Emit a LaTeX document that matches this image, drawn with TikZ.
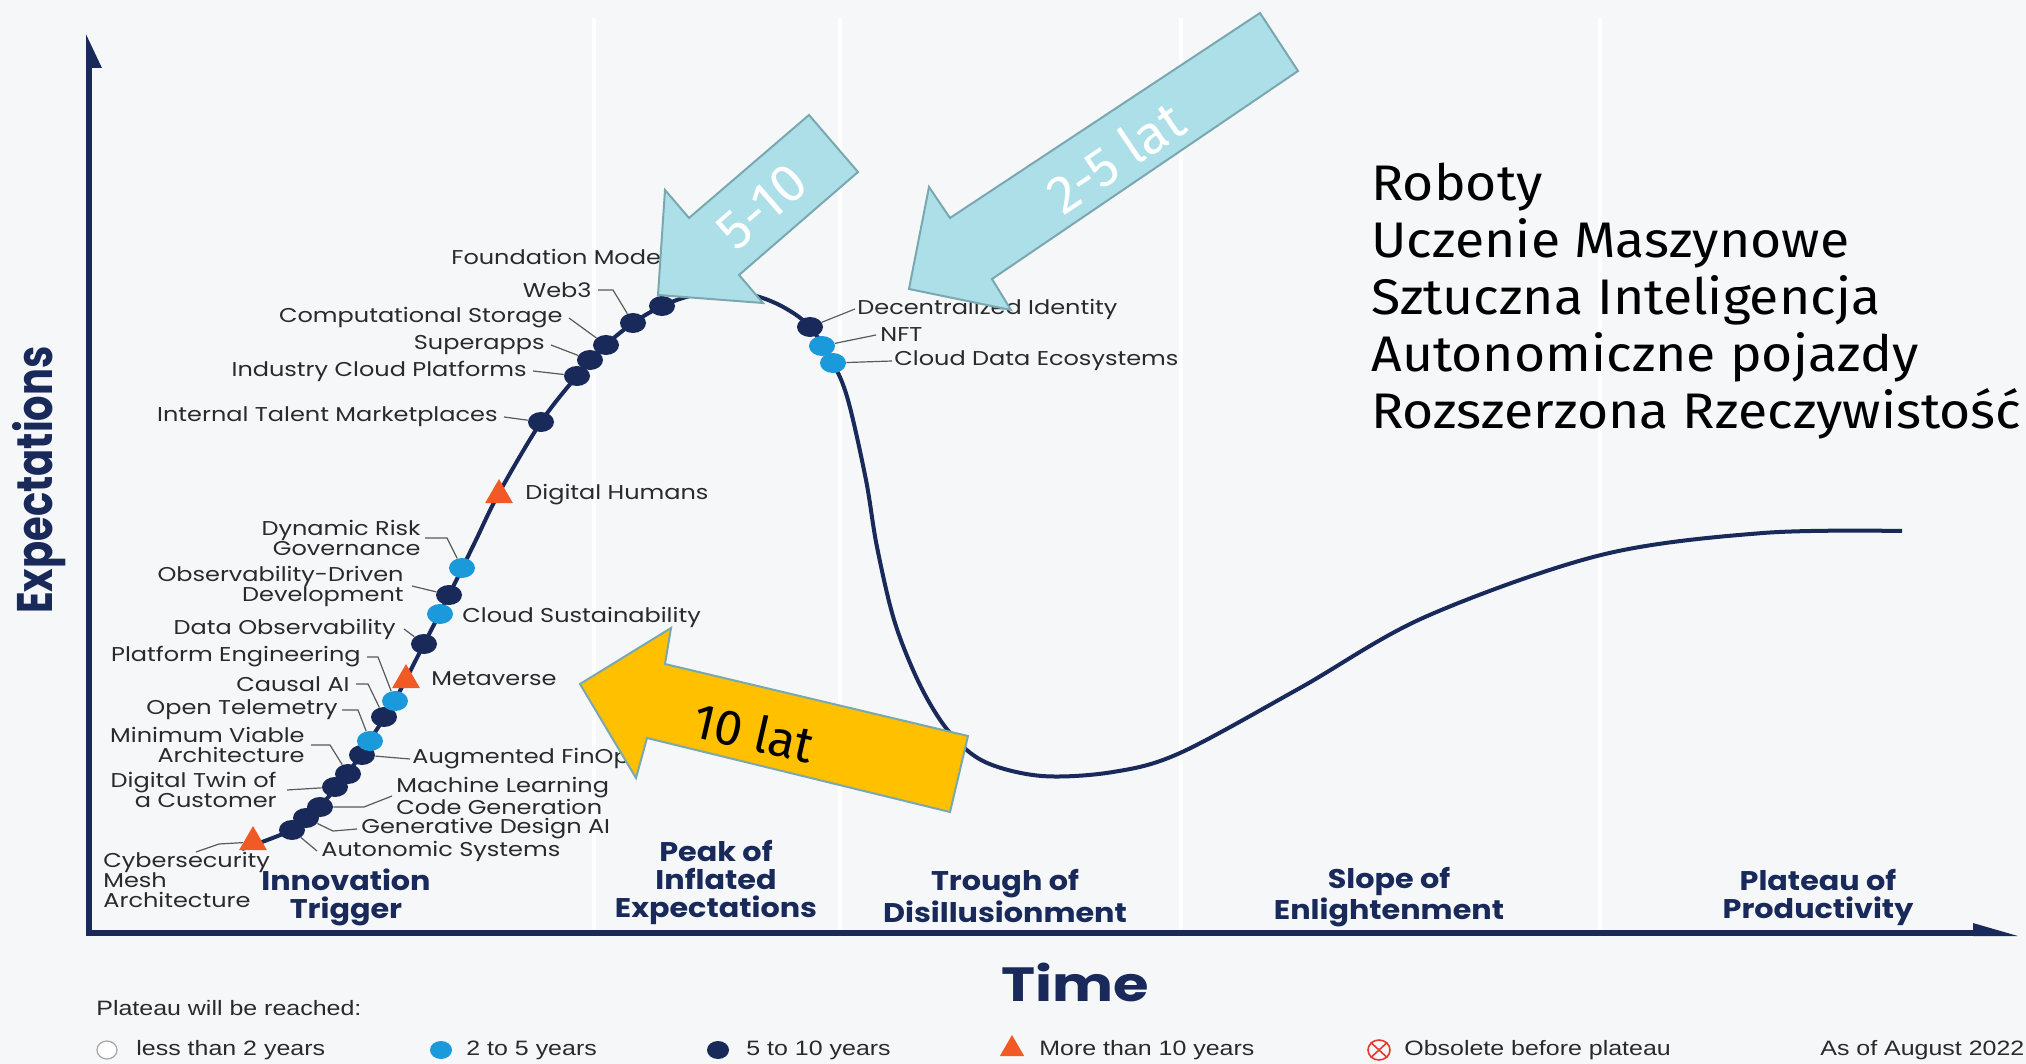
\documentclass[tikz,border=0pt]{standalone}
\usepackage{fontspec}
\setmainfont{Poppins}[FakeStretch=1.2]
\newfontfamily\phasefont{Poppins}[FakeStretch=1.12]
\newfontfamily\axisfont{Poppins}[FakeStretch=0.8]
\newfontfamily\legendfont{Liberation Sans}[FakeStretch=1.2]
\newfontfamily\slidefont{Fira Sans}
\newfontfamily\topicfont{Fira Sans}[FakeStretch=1.07]
\usetikzlibrary{arrows.meta,shapes.geometric}
\definecolor{hcnavy}{HTML}{18295A}
\definecolor{hcblue}{HTML}{1A9ADB}
\definecolor{hcorange}{HTML}{F15A24}
\definecolor{hcback}{HTML}{F5F7F9}
\definecolor{hcaqua}{HTML}{ADDFE9}
\definecolor{hcrim}{HTML}{7AA8B0}
\definecolor{hcyellow}{HTML}{FFC000}
\definecolor{hcgray}{HTML}{5A5A5A}
\definecolor{hcdark}{HTML}{2A2A2A}
\definecolor{hcred}{HTML}{E8382D}

\begin{document}
\begin{tikzpicture}[x=0.5pt,y=-0.5pt,
    navydot/.style={ellipse,fill=hcnavy,inner sep=0pt,minimum width=13pt,minimum height=10pt},
    bluedot/.style={navydot,fill=hcblue},
    tri/.style={regular polygon,regular polygon sides=3,fill=hcorange,inner sep=0pt,minimum size=16pt},
    tag/.style={inner sep=0pt,text=hcdark,font=\fontsize{10}{10}\selectfont},
    tagl/.style={tag,anchor=west,align=left},
    tagr/.style={tag,anchor=east,align=right},
    lead/.style={draw=hcgray,line width=0.6pt},
    phase/.style={inner sep=0pt,text=hcnavy,align=center,font=\phasefont\bfseries\fontsize{13.5}{14}\selectfont},
    axis/.style={draw=hcnavy,line width=3pt},
    sep/.style={draw=white,line width=2pt},
    block/.style={draw=hcrim,line width=1pt,line join=miter},
    legend/.style={inner sep=0pt,anchor=west,text=hcdark,font=\legendfont\fontsize{10.4}{12}\selectfont}]
  \useasboundingbox (0,0) rectangle (2026,1064);
  \fill[hcback] (0,0) rectangle (2026,1064);

  \foreach \x in {594,840,1181,1600}
    \draw[sep] (\x,18) -- (\x,930);

  \coordinate (origin) at (89,933);
  \coordinate (ytop) at (89,33);
  \coordinate (xend) at (2021,933);
  \draw[axis,-{Triangle[harpoon,swap,length=14pt,width=12pt]}] (origin) -- (ytop);
  \draw[axis,-{Triangle[harpoon,length=18pt,width=9pt]}] ([xshift=-1.5pt]origin) -- (xend);

  \draw[hcnavy,line width=2pt] plot[smooth,tension=0.55] coordinates {
    (242,849) (270,839) (292,829) (320,806) (348,773) (370,740) (395,700)
    (424,644) (449,595) (475,542) (499,493) (541,422) (577,376) (606,345)
    (633,323) (662,306) (690,296) (720,291) (756,296) (785,308) (810,327)
    (833,363) (848,400) (866,480) (877,547) (895,623) (921,687) (950,733)
    (985,762) (1042,776) (1113,772) (1180,753) (1300,688) (1425,617)
    (1601,555) (1763,533) (1902,531)};

  \node[tri]      (tCyber)  at (253,842) {};
  \node[navydot]  (dAuto)   at (292,830) {};
  \node[navydot]  (dGen)    at (306,818) {};
  \node[navydot]  (dML)     at (320,807) {};
  \node[navydot]  (dTwin)   at (335,787) {};
  \node[navydot]  (dMin)    at (348,774) {};
  \node[navydot]  (dAug)    at (362,755) {};
  \node[bluedot]  (dOpen)   at (370,741) {};
  \node[navydot]  (dCausal) at (384,717) {};
  \node[bluedot]  (dPlat)   at (395,701) {};
  \node[tri]      (tMeta)   at (406,680) {};
  \node[navydot]  (dData)   at (424,644) {};
  \node[bluedot]  (dSust)   at (440,614) {};
  \node[navydot]  (dObs)    at (449,595) {};
  \node[bluedot]  (dRisk)   at (462,568) {};
  \node[tri]      (tHum)    at (499,495) {};
  \node[navydot]  (dTal)    at (541,422) {};
  \node[navydot]  (dInd)    at (577,376) {};
  \node[navydot]  (dSuper)  at (590,360) {};
  \node[navydot]  (dComp)   at (606,345) {};
  \node[navydot]  (dWeb)    at (633,323) {};
  \node[navydot]  (dFound)  at (662,306) {};
  \node[navydot]  (dDec)    at (810,327) {};
  \node[bluedot]  (dNft)    at (822,346) {};
  \node[bluedot]  (dCde)    at (833,363) {};

  \node[tagl] (lFound)  at (451,257) {Foundation Models};
  \node[tagr] (lWeb)    at (592,290) {Web3};
  \node[tagr] (lComp)   at (563,318) {Computational Storage};
  \node[tagr] (lSuper)  at (545,345) {Superapps};
  \node[tagr] (lInd)    at (527,371) {Industry Cloud Platforms};
  \node[tagr] (lTal)    at (498,417) {Internal Talent Marketplaces};
  \node[tagl] (lHum)    at (525,495) {Digital Humans};
  \node[tagr] (lRisk)   at (421,538) {Dynamic Risk\\Governance};
  \node[tagr] (lObs)    at (404,586) {Observability-Driven\\Development};
  \node[tagl] (lSust)   at (462,617) {Cloud Sustainability};
  \node[tagr] (lData)   at (396,629) {Data Observability};
  \node[tagr] (lPlat)   at (361,657) {Platform Engineering};
  \node[tagl] (lMeta)   at (431,679) {Metaverse};
  \node[tagr] (lCausal) at (350,684) {Causal AI};
  \node[tagr] (lOpen)   at (338,710) {Open Telemetry};
  \node[tagr] (lMin)    at (305,745) {Minimum Viable\\Architecture};
  \node[tagl] (lAug)    at (412,759) {Augmented FinOps};
  \node[tagr] (lTwin)   at (277,790) {Digital Twin of\\a Customer};
  \node[tagl] (lML)     at (396,796) {Machine Learning\\Code Generation};
  \node[tagl] (lGen)    at (361,829) {Generative Design AI};
  \node[tagl] (lAuto)   at (321,851) {Autonomic Systems};
  \node[tagl] (lCyber)  at (103,880) {Cybersecurity\\Mesh\\Architecture};
  \node[tagl] (lDec)    at (857,309) {Decentralized Identity};
  \node[tagl] (lNft)    at (880,335) {NFT};
  \node[tagl] (lCde)    at (894,361) {Cloud Data Ecosystems};

  \draw[lead] ([xshift=3pt]lWeb.east) -- ++(15,0) -- (dWeb);
  \draw[lead] ([xshift=3pt]lComp.east) -- (dComp);
  \draw[lead] ([xshift=3pt]lSuper.east) -- (dSuper);
  \draw[lead] ([xshift=3pt]lInd.east) -- (dInd);
  \draw[lead] ([xshift=3pt]lTal.east) -- (dTal);
  \draw[lead] ([xshift=2pt]lRisk.east) -- ++(22,0) -- (dRisk);
  \draw[lead] ([xshift=4pt]lObs.east) -- (dObs);
  \draw[lead] ([xshift=4pt]lData.east) -- (dData);
  \draw[lead] ([xshift=3pt]lPlat.east) -- ++(11,0) -- (dPlat);
  \draw[lead] ([xshift=3pt]lCausal.east) -- ++(12,0) -- (dCausal);
  \draw[lead] ([xshift=2pt]lOpen.east) -- ++(16,0) -- (dOpen);
  \draw[lead] ([xshift=3pt]lMin.east) -- ++(19,0) -- (dMin);
  \draw[lead] (dAug) -- ([xshift=-1pt]lAug.west);
  \draw[lead] ([xshift=5pt]lTwin.east) -- (dTwin);
  \draw[lead] (dML) -- ++(44,0) -- ([xshift=-2pt]lML.west);
  \draw[lead] (dGen) -- ++(27,13) -- ([xshift=-2pt]lGen.west);
  \draw[lead] (dAuto) -- ([xshift=-2pt]lAuto.west);
  \draw[lead] (tCyber) -- ++(-34,2) -- ++(-23,8);
  \draw[lead] (dDec) -- ([xshift=-1pt]lDec.west);
  \draw[lead] (dNft) -- ([xshift=-2pt]lNft.west);
  \draw[lead] (dCde) -- ([xshift=-1pt]lCde.west);

  \node[phase] (phInno)   at (346,897)  {Innovation\\Trigger};
  \node[phase] (phPeak)   at (716,883)  {Peak of\\Inflated\\Expectations};
  \node[phase] (phTrough) at (1005,896) {Trough of\\Disillusionment};
  \node[phase] (phSlope)  at (1389,897) {Slope of\\Enlightenment};
  \node[phase] (phPlat)   at (1818,897) {Plateau of\\Productivity};

  \node[rotate=90,text=hcnavy,font=\axisfont\bfseries\fontsize{25}{26}\selectfont] (lExp) at (39,480) {Expectations};
  \node[text=hcnavy,font=\bfseries\fontsize{24}{26}\selectfont] (lTime) at (1075,982) {Time};

  \node[legend] (lgHead) at (96,1008) {Plateau will be reached:};
  \node[ellipse,draw=gray!70,fill=white,line width=0.6pt,inner sep=0pt,minimum width=10pt,minimum height=9pt] (mk2) at (107,1050) {};
  \node[legend] (lg2) at (136,1050) {less than 2 years};
  \node[bluedot,minimum width=11pt,minimum height=9pt] (mk5) at (441,1050) {};
  \node[legend] (lg5) at (466,1050) {2 to 5 years};
  \node[navydot,minimum width=11pt,minimum height=9pt] (mk10) at (718,1050) {};
  \node[legend] (lg10) at (746,1050) {5 to 10 years};
  \node[tri,minimum size=14pt] (mkMore) at (1012,1049) {};
  \node[legend] (lgMore) at (1039,1050) {More than 10 years};
  \node[ellipse,draw=hcred,line width=0.8pt,inner sep=0pt,minimum width=11pt,minimum height=10pt] (mkObs) at (1379,1050) {};
  \draw[hcred,line width=0.8pt] (mkObs.north west) -- (mkObs.south east)
                                (mkObs.north east) -- (mkObs.south west);
  \node[legend] (lgObs) at (1404,1050) {Obsolete before plateau};
  \node[legend] (lgDate) at (1820,1050) {As of August 2022};

  \fill[hcaqua,block] (809,115) -- (858,172) -- (739,275) -- (763,303) -- (658,295) -- (665,190) -- (689,218) -- cycle;
  \fill[hcaqua,block] (1260,13) -- (1298,71) -- (992,279) -- (1011,310) -- (909,289) -- (929,187) -- (950,218) -- cycle;
  \fill[hcyellow,block] (580,684) -- (671,628) -- (665,664) -- (968,736) -- (950,812) -- (647,738) -- (636,778) -- cycle;

  \node[rotate=41,text=white,font=\slidefont\fontsize{27}{27}\selectfont] (t510) at (762,207) {5-10};
  \node[rotate=34,text=white,font=\slidefont\fontsize{27}{27}\selectfont] (t25) at (1115,157) {2-5 lat};
  \node[rotate=-13,text=black,font=\slidefont\fontsize{25}{25}\selectfont] (t10) at (754,732) {10 lat};

  \node[anchor=west,align=left,inner sep=0pt,font=\topicfont\fontsize{25}{28.6}\selectfont] (topics) at (1371,301)
    {Roboty\\Uczenie Maszynowe\\Sztuczna Inteligencja\\Autonomiczne pojazdy\\Rozszerzona Rzeczywistość};
\end{tikzpicture}
\end{document}
